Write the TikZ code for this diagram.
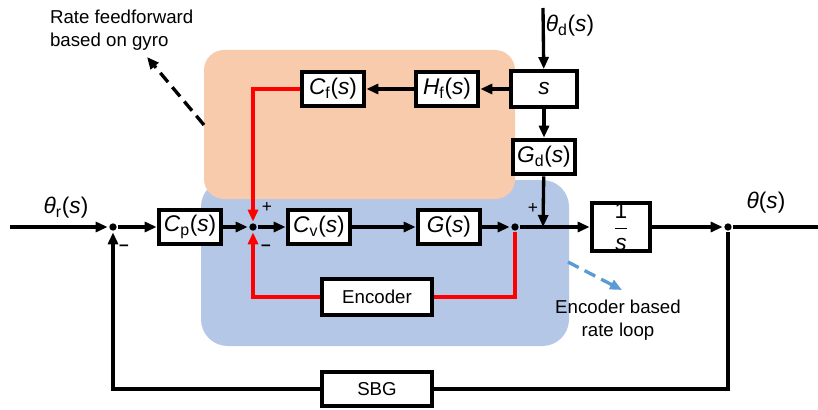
\documentclass[tikz,border=0pt]{standalone}
\usepackage{fontspec}
\setmainfont{Liberation Sans}
\usepackage{amsmath}
\usetikzlibrary{arrows.meta}
\definecolor{ffzone}{HTML}{F8CBAD}
\definecolor{rlzone}{HTML}{B4C7E7}
\definecolor{rlarrow}{HTML}{5B9BD5}
\newcommand{\tfn}[2]{\textit{#1}\textsubscript{#2}(\textit{s})}
\begin{document}
\begin{tikzpicture}[x=0.75pt,y=-0.75pt,line width=2.5pt,>={Triangle[length=9pt,width=7.5pt]},
        blk/.style={draw,line width=3pt,fill=white,inner sep=0pt,minimum width=47pt,minimum height=26pt,font=\fontsize{17}{20}\selectfont},
        sumdot/.style={circle,fill,inner sep=0pt,minimum size=5.5pt},
        lbl/.style={font=\fontsize{14}{17}\selectfont},
        sgn/.style={font=\fontsize{13}{15}\selectfont}]
        \useasboundingbox (0,0) rectangle (818,410);
        % shaded zones
        \fill[rlzone,rounded corners=20pt] (201,180) rectangle (569,346);
        \fill[ffzone,rounded corners=15pt] (204,50) rectangle (515,199);
        % blocks
        \node[blk] (cp) at (190,227) {\tfn{C}{p}};
        \node[blk] (cv) at (319,227) {\tfn{C}{v}};
        \node[blk] (g) at (449,227) {\textit{G}(\textit{s})};
        \node[blk,minimum width=44pt,minimum height=28pt] (int) at (621,227) {$\dfrac{\text{1}}{\text{\itshape s}}$};
        \node[blk] (cf) at (333,89) {\tfn{C}{f}};
        \node[blk] (hf) at (447,89) {\tfn{H}{f}};
        \node[blk,minimum width=49pt,minimum height=27pt] (sd) at (544,89) {\textit{s}};
        \node[blk] (gd) at (544,157) {\tfn{G}{d}};
        \node[blk,lbl,minimum width=82pt,minimum height=27pt] (enc) at (377,297) {Encoder};
        \node[blk,lbl,minimum width=82pt,minimum height=25pt] (sbg) at (377,389) {SBG};
        % junctions
        \node[sumdot] (s1) at (113,227) {};
        \node[sumdot] (s2) at (253,227) {};
        \node[sumdot] (d1) at (515,227) {};
        \node[sumdot] (d2) at (728,227) {};
        \coordinate (in) at (10,227);
        \coordinate (out) at (818,227);
        \coordinate (jn) at (543,227);
        \coordinate (dist) at (543,8);
        % forward path
        \draw[->] (in) -- (s1);
        \foreach \a/\b in {s1/cp,cp/s2,s2/cv,cv/g,g/d1,sd/hf,hf/cf,sd/gd,dist/sd}
            \draw[->] (\a) -- (\b);
        \draw[->] (d1) -- (jn) -- (int);
        \draw[->] (int) -- (d2);
        \draw (d2) -- (out);
        \draw[->] (gd) -- (jn);
        % rate loops
        \draw[red,->] (cf) -| (s2);
        \draw[red] (d1) |- (enc);
        \draw[red,->] (enc) -| (s2);
        \draw[->] (d2) |- (sbg) -| (s1);
        % labels
        \node[lbl,anchor=north west,align=left] (fflbl) at (44,4) {Rate feedforward\\based on gyro};
        \node[lbl,align=center] (rllbl) at (618,320) {Encoder based\\rate loop};
        \draw[dash pattern=on 9pt off 5pt,->] (204,125) -- (147,57);
        \draw[rlarrow,dash pattern=on 9pt off 5pt,->] (568,262) -- (622,290);
        \node[font=\fontsize{17}{20}\selectfont] at (66,208) {\textit{θ}\textsubscript{r}(\textit{s})};
        \node[font=\fontsize{17}{20}\selectfont] at (570,26) {\textit{θ}\textsubscript{d}(\textit{s})};
        \node[font=\fontsize{17}{20}\selectfont] at (766,203) {\textit{θ}(\textit{s})};
        \node[sgn] at (267,207) {+};
        \node[sgn] at (266,248) {\textbf{–}};
        \node[sgn] at (124,248) {\textbf{–}};
        \node[sgn] at (533,208) {+};
    \end{tikzpicture}
\end{document}
